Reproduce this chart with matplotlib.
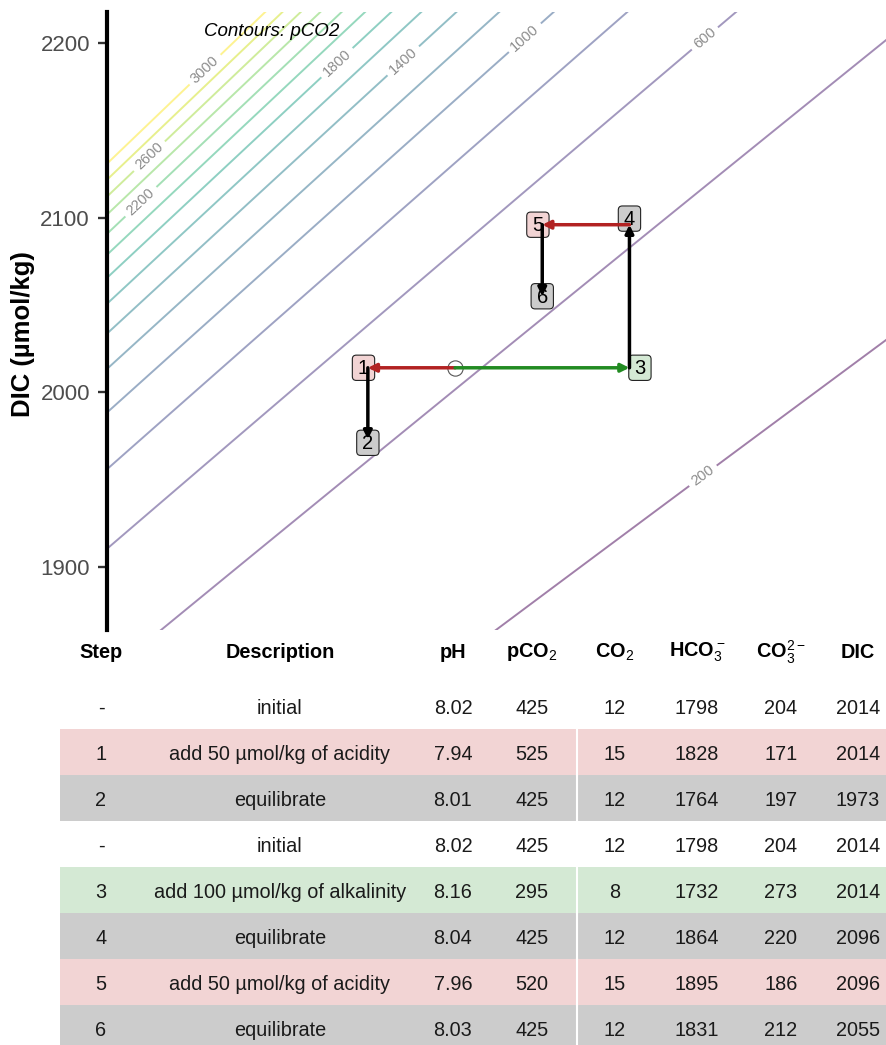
import numpy as np
import matplotlib
matplotlib.use("Agg")
import matplotlib.pyplot as plt
from matplotlib.patches import FancyArrowPatch, FancyBboxPatch
from matplotlib.colors import Normalize

plt.rcParams['font.family'] = ['Liberation Sans', 'DejaVu Sans']
plt.rcParams['mathtext.fontset'] = 'custom'
plt.rcParams['mathtext.rm'] = 'Liberation Sans'
plt.rcParams['mathtext.default'] = 'rm'

#Table data (one row per step)
steps = ['-', '1', '2', '-', '3', '4', '5', '6']
descriptions = ['initial', 'add 50 µmol/kg of acidity', 'equilibrate',
                'initial', 'add 100 µmol/kg of alkalinity', 'equilibrate',
                'add 50 µmol/kg of acidity', 'equilibrate']
kinds = ['init', 'acid', 'eq', 'init', 'alk', 'eq', 'acid', 'eq']
ph = ['8.02', '7.94', '8.01', '8.02', '8.16', '8.04', '7.96', '8.03']
pco2 = [425, 525, 425, 425, 295, 425, 520, 425]
co2 = [12, 15, 12, 12, 8, 12, 15, 12]
hco3 = [1798, 1828, 1764, 1798, 1732, 1864, 1895, 1831]
co3 = [204, 171, 197, 204, 273, 220, 186, 212]
dic = [2014, 2014, 1973, 2014, 2014, 2096, 2096, 2055]
#TA relative to the initial state (umol/kg)
ta_rel = [0, -50, -50, 0, 100, 100, 50, 50]
#the two paths through the table rows
paths = [[0, 1, 2], [3, 4, 5, 6, 7]]

#Contour levels
levels = np.arange(200, 3001, 200)
label_levels = [200, 600, 1000, 1400, 1800, 2200, 2600, 3000]

#Carbonate system constants, T = 25 C, S = 35
T = 298.15
S = 35.0
K1 = 10 ** -(3633.86 / T - 61.2172 + 9.67770 * np.log(T) - 0.011555 * S + 0.0001152 * S ** 2)
K2 = 10 ** -(471.78 / T + 25.9290 - 3.16967 * np.log(T) - 0.01781 * S + 0.0001122 * S ** 2)
K0 = np.exp(-60.2409 + 93.4517 * (100 / T) + 23.3585 * np.log(T / 100)
            + S * (0.023517 - 0.023656 * (T / 100) + 0.0047036 * (T / 100) ** 2))
KB = np.exp((-8966.90 - 2890.53 * S ** 0.5 - 77.942 * S + 1.728 * S ** 1.5 - 0.0996 * S ** 2) / T
            + 148.0248 + 137.1942 * S ** 0.5 + 1.62142 * S
            - (24.4344 + 25.085 * S ** 0.5 + 0.2474 * S) * np.log(T) + 0.053105 * S ** 0.5 * T)
KW = np.exp(148.96502 - 13847.26 / T - 23.6521 * np.log(T)
            + (118.67 / T - 5.977 + 1.0495 * np.log(T)) * S ** 0.5 - 0.01615 * S)
BT = 0.0004157 * S / 35


def calc_pco2(ta, dc):
    '''pCO2 (uatm) from TA and DIC (umol/kg) by bisection on pH'''
    ta = np.asarray(ta, float) * 1e-6
    dc = np.asarray(dc, float) * 1e-6
    lo = np.full(np.broadcast(ta, dc).shape, 6.0)
    hi = np.full_like(lo, 10.0)
    for _ in range(60):
        mid = (lo + hi) / 2
        h = 10 ** -mid
        alk = (dc * (K1 * h + 2 * K1 * K2) / (h * h + K1 * h + K1 * K2)
               + BT * KB / (KB + h) + KW / h - h)
        lo = np.where(alk < ta, mid, lo)
        hi = np.where(alk < ta, hi, mid)
    h = 10 ** -((lo + hi) / 2)
    co2s = dc * h * h / (h * h + K1 * h + K1 * K2)
    return co2s / K0 * 1e6


#Initial TA that matches the initial pCO2 and DIC
a, b = 2000.0, 2700.0
for _ in range(60):
    m = (a + b) / 2
    if calc_pco2(m, dic[0]) > pco2[0]:
        a = m
    else:
        b = m
ta0 = (a + b) / 2
ta = [ta0 + t for t in ta_rel]

fig = plt.figure(figsize=(8.86, 10.45), dpi=100)
W, H = 886, 1045

#Plot
ax = fig.add_axes([107.3 / W, 1 - 630 / H, (W - 107.3) / W, (630 - 11.7) / H])
xlim = (ta0 - 199.4, ta0 + 247.1)
ylim = (1863.7, 2218.1)
gx = np.linspace(xlim[0] - 10, xlim[1] + 10, 240)
gy = np.linspace(ylim[0] - 10, ylim[1] + 10, 240)
GX, GY = np.meshgrid(gx, gy)
Z = calc_pco2(GX, GY)

norm = Normalize(levels[0], levels[-1])
other_levels = [l for l in levels if l not in label_levels]
ax.contour(GX, GY, Z, levels=other_levels, cmap='viridis', norm=norm,
           alpha=0.5, linewidths=1.4)
cs = ax.contour(GX, GY, Z, levels=label_levels, cmap='viridis', norm=norm,
                alpha=0.5, linewidths=1.4)
label_pos = [(ta0 + 143.9, 1949.7), (ta0 + 143.9, 2202.0), (ta0 + 40.1, 2203.1),
             (ta0 - 28.7, 2188.8), (ta0 - 67.1, 2188.2), (ta0 - 179.5, 2108.5),
             (ta0 - 174.9, 2134.9), (ta0 - 142.2, 2183.7)]
lbls = ax.clabel(cs, inline=True, fontsize=10.5, fmt='%d',
                 manual=label_pos, inline_spacing=4)
for t in lbls:
    t.set_color('#8c8c8c')

ax.text(ta0 - 104.9, 2206.6, 'Contours: pCO2', style='italic', fontsize=13.5,
        ha='center', va='center')

fills = {'init': 'white', 'acid': '#f2d4d4', 'eq': '#cccccc', 'alk': '#d4e9d4'}
arrow_cols = {'acid': '#b22222', 'alk': '#228b22', 'eq': 'black'}
#label nudges in data units
nudges = {1: (-2.5, 0), 4: (6, 0), 5: (0, 3.5), 6: (-2.5, 0), 2: (0, -2)}
box_w, box_h = 12.8, 14.5

#Step labels
for i in range(len(steps)):
    if kinds[i] == 'init':
        continue
    dx, dy = nudges.get(i, (0, 0))
    cx, cy = ta[i] + dx, dic[i] + dy
    ax.add_patch(FancyBboxPatch((cx - box_w / 2, cy - box_h / 2), box_w, box_h,
                                boxstyle='round,pad=0,rounding_size=2.3',
                                fc=fills[kinds[i]], ec='#222222', lw=0.8, zorder=3))
    ax.text(cx, cy - 0.6, steps[i], ha='center', va='center', fontsize=14.5, zorder=4)

#Initial point
ax.plot(ta[0], dic[0], 'o', ms=11, mfc='none', mec='#555555', mew=0.8, zorder=5)

#Arrows
for p in paths:
    for j0, j1 in zip(p[:-1], p[1:]):
        arr = FancyArrowPatch((ta[j0], dic[j0]), (ta[j1], dic[j1]),
                              arrowstyle='-|>', mutation_scale=12, lw=2.5,
                              color=arrow_cols[kinds[j1]], shrinkA=0, shrinkB=0,
                              zorder=6)
        ax.add_patch(arr)

ax.set_xlim(xlim)
ax.set_ylim(ylim)
ax.set_yticks([1900, 2000, 2100, 2200])
for s in ['top', 'right', 'bottom']:
    ax.spines[s].set_visible(False)
ax.spines['left'].set_linewidth(3)
ax.spines['left'].set_color('black')
ax.set_xticks([])
ax.tick_params(axis='y', length=6.5, width=1.7, color='#333333', labelsize=16,
               labelcolor='#4d4d4d', pad=6)
ax.set_ylabel('DIC (µmol/kg)', fontsize=18.5, fontweight='bold')
ax.yaxis.set_label_coords(-0.093, 0.479)

#Table
tab = fig.add_axes([0, 0, 1, 1 - 630 / H])
tab.set_xlim(0, W)
tab.set_ylim(H, 630)
tab.axis('off')

col_x = [101, 280, 453, 532, 615, 697, 781, 858]
headers = ['Step', 'Description', 'pH', 'pCO$_2$', 'CO$_2$', 'HCO$_3^-$', 'CO$_3^{2-}$', 'DIC']
for x, h in zip(col_x, headers):
    tab.text(x, 652, h, ha='center', va='center', fontsize=14.3, fontweight='bold')

row_h = 46
top0 = 683
for i in range(len(steps)):
    yt = top0 + i * row_h
    if kinds[i] != 'init':
        tab.fill_between([60, W], yt, yt + row_h, color=fills[kinds[i]], lw=0)
        tab.plot([577, 577], [yt, yt + row_h], color='white', lw=1.5)
    vals = [steps[i], descriptions[i], ph[i], pco2[i], co2[i], hco3[i], co3[i], dic[i]]
    for x, v in zip(col_x, vals):
        tab.text(x, yt + row_h / 2 + 2, str(v), ha='center', va='center', fontsize=14.3,
                 color='#1a1a1a')

fig.savefig('out.png', dpi=100)
